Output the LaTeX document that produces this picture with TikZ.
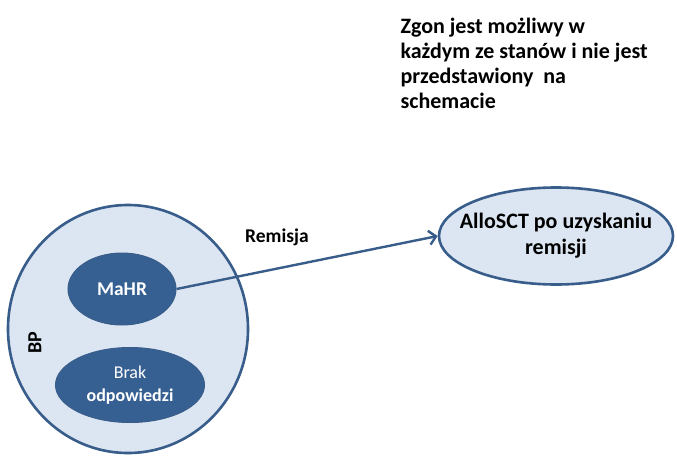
\documentclass[tikz,border=0pt]{standalone}
\usepackage{fontspec}
\setmainfont{Carlito}
\usepackage{xcolor}
\usetikzlibrary{positioning,shapes.geometric,arrows.meta}
\definecolor{lightfill}{RGB}{220,230,242}
\definecolor{edgeblue}{RGB}{56,93,138}
\definecolor{darkfill}{RGB}{55,96,146}
\tikzset{
  state/.style={ellipse, draw=edgeblue, line width=2.6pt, fill=lightfill, inner sep=0pt, align=center, font=\bfseries\fontsize{22}{26}\selectfont},
  substate/.style={ellipse, draw=edgeblue, fill=darkfill, line width=1pt, inner sep=0pt, align=center, text=white, font=\fontsize{18}{23}\selectfont},
}
\begin{document}
\begin{tikzpicture}[x=1pt,y=-1pt]
            \useasboundingbox (0,0) rectangle (677,455);
            \node[state, minimum width=240pt, minimum height=248pt] (bp) at (128,329){};
            \node[state, inner xsep=-25pt, minimum width=234pt, minimum height=97pt] (allo) at (556,236){AlloSCT po uzyskaniu\\remisji};
            \node[substate, minimum width=108pt, minimum height=72pt] (mahr) at (122,289){\bfseries\fontsize{19.5}{23}\selectfont MaHR};
            \node[substate, minimum width=149pt, minimum height=75pt] (brak) at (130,385){Brak\\\bfseries odpowiedzi};
            \node[rotate=90, font=\bfseries\fontsize{20}{23}\selectfont] (bplabel) at (35,343){BP};
            \draw[edgeblue, line width=2.4pt, -{Straight Barb[length=7pt,width=14pt]}] (mahr.east) -- (allo.west);
            \node[font=\bfseries\fontsize{19.5}{23}\selectfont] (remisja) at (277,237){Remisja};
            \node[anchor=north west, align=left, font=\bfseries\fontsize{22}{25}\selectfont] (zgon) at (397,14){Zgon jest możliwy w\\każdym ze stanów i nie jest\\przedstawiony \ na\\schemacie};
        \end{tikzpicture}
\end{document}
